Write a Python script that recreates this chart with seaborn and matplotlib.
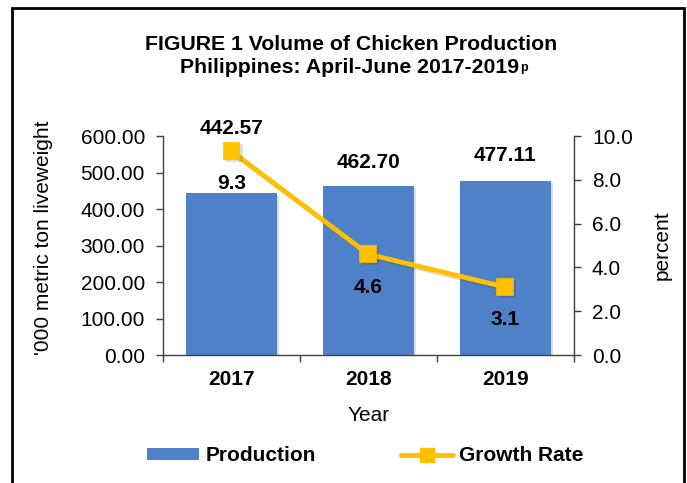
import matplotlib
matplotlib.use('Agg')
import matplotlib.pyplot as plt
import matplotlib.patheffects as pe
from matplotlib.patches import Patch, Rectangle
from matplotlib.lines import Line2D
from matplotlib.ticker import FormatStrFormatter, MultipleLocator, FixedLocator
import seaborn as sns

# Daten
years = ['2017', '2018', '2019']
production = [442.57, 462.70, 477.11]
growth_rate = [9.3, 4.6, 3.1]

bar_color = '#4F81C8'
line_color = '#FFC000'

sns.set_theme(style='white')
plt.rcParams['font.family'] = ['Liberation Sans', 'DejaVu Sans']
plt.rcParams.update({'text.color': 'black', 'axes.labelcolor': 'black',
                     'xtick.color': 'black', 'ytick.color': 'black'})

fig = plt.figure(figsize=(6.87, 4.83), dpi=100)
ax = fig.add_axes([0.2373, 0.265, 0.598, 0.4534])

sns.barplot(x=years, y=production, ax=ax, color=bar_color, width=0.66,
            saturation=1, edgecolor='none')
for bar in ax.patches:
    bar.set_path_effects([pe.SimplePatchShadow(offset=(1.5, -1.5), alpha=0.15),
                          pe.Normal()])

ax.set_ylim(0, 600)
ax.yaxis.set_major_locator(MultipleLocator(100))
ax.yaxis.set_major_formatter(FormatStrFormatter('%.2f'))
ax.set_xlim(-0.5, 2.5)

ax2 = ax.twinx()
sns.pointplot(x=years, y=growth_rate, ax=ax2, color=line_color, markers='s',
              markersize=10, linewidth=3.5)
for ln in ax2.lines:
    ln.set_path_effects([pe.SimpleLineShadow(offset=(1.5, -1.5), alpha=0.15),
                         pe.Normal()])
ax2.set_ylim(0, 10)
ax2.set_xlim(-0.5, 2.5)
ax2.yaxis.set_major_locator(MultipleLocator(2))
ax2.yaxis.set_major_formatter(FormatStrFormatter('%.1f'))
ax2.set_xlabel('')

# Achsen
for a in (ax, ax2):
    for s in a.spines.values():
        s.set_visible(False)
ax.spines['left'].set_visible(True)
ax.spines['bottom'].set_visible(True)
ax2.spines['right'].set_visible(True)
for s in (ax.spines['left'], ax.spines['bottom'], ax2.spines['right']):
    s.set_color('#404040')
    s.set_linewidth(1.0)

ax.tick_params(axis='y', which='major', direction='out', length=5, width=1,
               color='#404040', labelsize=15, pad=8, left=True)
ax2.tick_params(axis='y', which='major', direction='out', length=5, width=1,
                color='#404040', labelsize=15, pad=8, right=True)
ax.xaxis.set_minor_locator(FixedLocator([-0.5, 0.5, 1.5, 2.5]))
ax.tick_params(axis='x', which='major', length=0, labelsize=15, pad=11)
ax.tick_params(axis='x', which='minor', direction='out', length=5, width=1,
               color='#404040', bottom=True)
for lbl in ax.get_xticklabels():
    lbl.set_fontweight('bold')

ax.set_xlabel('Year', fontsize=15, labelpad=12)
ax.set_ylabel("'000 metric ton liveweight", fontsize=15)
ax.yaxis.set_label_coords(-0.267, 0.535)
ax2.set_ylabel('percent', fontsize=15, labelpad=14)
# Linie über Balken zeichnen
ax.set_zorder(0)
ax2.set_zorder(1)
ax2.patch.set_visible(False)

# Beschriftungen
bar_offsets = [47, 17, 18]
line_offsets = [-23, -24, -23]
for i, (p, g) in enumerate(zip(production, growth_rate)):
    ax.annotate(f'{p:.2f}', xy=(i, p), xytext=(0, bar_offsets[i]),
                textcoords='offset points', ha='center', va='center',
                fontsize=15, fontweight='bold', annotation_clip=False)
    ax2.annotate(f'{g:.1f}', xy=(i, g), xytext=(0, line_offsets[i]),
                 textcoords='offset points', ha='center', va='center',
                 fontsize=15, fontweight='bold', annotation_clip=False)

# Titel
fig.text(0.511, 0.907, 'FIGURE 1 Volume of Chicken Production',
         ha='center', va='center', fontsize=15.3, fontweight='bold')
t2 = fig.text(0.509, 0.860, 'Philippines: April-June 2017-2019',
              ha='center', va='center', fontsize=15.3, fontweight='bold')
ax.annotate('p', xy=(1, 0.5), xycoords=t2, xytext=(0.5, 0),
            textcoords='offset points', ha='left', va='center',
            fontsize=9, fontweight='bold', annotation_clip=False)

# Legende
handles = [Patch(facecolor=bar_color, edgecolor='none', label='Production'),
           Line2D([], [], color=line_color, lw=3.5, marker='s', markersize=10,
                  label='Growth Rate')]
fig.legend(handles=handles, loc='center', bbox_to_anchor=(0.532, 0.056),
           ncol=2, frameon=False, handlelength=2.5, handleheight=0.55,
           columnspacing=4.1, handletextpad=0.29,
           prop={'size': 15, 'weight': 'bold'})

# Rahmen
fig.patches.append(Rectangle((12 / 687, -0.1), 672 / 687, 1.1 - 8 / 483,
                             transform=fig.transFigure, fill=False,
                             edgecolor='black', linewidth=2, clip_on=False))

fig.savefig('out.png', dpi=100)
